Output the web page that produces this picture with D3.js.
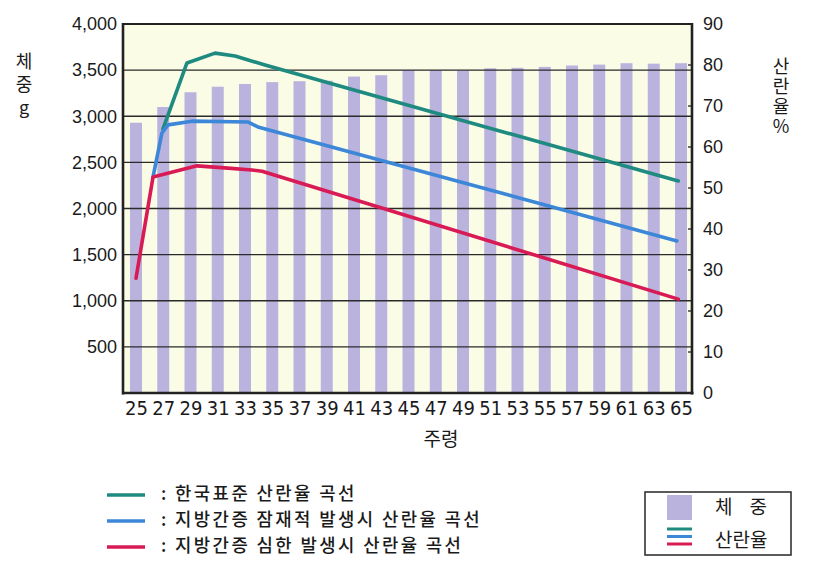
<!DOCTYPE html>
<html><head><meta charset="utf-8">
<script src="https://cdn.jsdelivr.net/npm/d3@7"></script>
<style>
body{margin:0;background:#fff}
text{fill:#1a1a1a}
</style>
</head><body>
<svg id="c" width="816" height="567"></svg>
<script>
// ---- data ----
const weeks = [25,27,29,31,33,35,37,39,41,43,45,47,49,51,53,55,57,59,61,63,65];
const weights = [2930,3100,3260,3320,3350,3370,3380,3385,3430,3445,3500,3500,3495,3520,3525,3535,3550,3560,3575,3570,3575];
const weightTicks = [500,1000,1500,2000,2500,3000,3500,4000];
const rateTicks = [0,10,20,30,40,50,60,70,80,90];

const stdWeeks = [26.98,28.74,30.8,32.27,34.47,64.8];
const stdRate  = [64.4,80.5,82.9,82.2,80.0,51.7];
const latentWeeks = [26.25,26.9,27.35,29.1,33.2,33.95,64.7];
const latentRate  = [52.7,63.4,65.4,66.3,66.1,64.9,37.1];
const severeWeeks = [25,26.25,29.48,31.5,33.5,34.25,64.8];
const severeRate  = [28.0,52.7,55.4,54.9,54.4,54.1,22.9];

const seriesNames = [": 한국표준 산란율 곡선", ": 지방간증 잠재적 발생시 산란율 곡선", ": 지방간증 심한 발생시 산란율 곡선"];
const seriesColors = ["#1f8a80", "#3d87d9", "#d81a55"];
const barColor = "#bab3de";

// ---- layout ----
const svg = d3.select("#c");
const L = 123, R = 692, T = 24, B = 393;
const x = d3.scaleLinear().domain([25,65]).range([136,681]);
const yW = d3.scaleLinear().domain([0,4000]).range([B,T]);
const yR = d3.scaleLinear().domain([0,90]).range([B,T]);
const numFont = "'Liberation Sans', Arial, sans-serif";
const narrowFont = "'Liberation Sans Narrow', 'DejaVu Sans Condensed', sans-serif";
const krFont = "'Noto Sans CJK KR', 'Noto Sans', sans-serif";

svg.append("rect").attr("x",L).attr("y",T).attr("width",R-L).attr("height",B-T).attr("fill","#fbfce6");

// bars
svg.append("g").selectAll("rect").data(weeks).join("rect")
  .attr("x", d => x(d) - 6).attr("width", 12)
  .attr("y", (d,i) => yW(weights[i])).attr("height", (d,i) => B - yW(weights[i]))
  .attr("fill", barColor);

// gridlines
svg.append("g").selectAll("line").data(weightTicks.filter(v => v < 4000)).join("line")
  .attr("x1", L).attr("x2", R).attr("y1", d => yW(d)).attr("y2", d => yW(d))
  .attr("stroke", "#2a2a2a").attr("stroke-width", 1.3);

// lines
const lineGen = d3.line().x(d => x(d[0])).y(d => yR(d[1]));
const series = [
  d3.zip(stdWeeks, stdRate),
  d3.zip(latentWeeks, latentRate),
  d3.zip(severeWeeks, severeRate)
];
series.forEach((s,i) => {
  svg.append("path").datum(s).attr("d", lineGen).attr("fill","none")
    .attr("stroke", seriesColors[i]).attr("stroke-width", 3.6)
    .attr("stroke-linejoin","round").attr("stroke-linecap","round");
});

// frame
svg.append("line").attr("x1",L).attr("x2",R).attr("y1",T).attr("y2",T).attr("stroke","#222").attr("stroke-width",2);
svg.append("line").attr("x1",L).attr("x2",L).attr("y1",T-1).attr("y2",B+1.5).attr("stroke","#222").attr("stroke-width",2.6);
svg.append("line").attr("x1",L-1).attr("x2",R+1.5).attr("y1",B).attr("y2",B).attr("stroke","#222").attr("stroke-width",2.6);
svg.append("line").attr("x1",R).attr("x2",R).attr("y1",T-1).attr("y2",B+1.5).attr("stroke","#222").attr("stroke-width",2.6);

// left axis
const axL = svg.append("g").attr("transform",`translate(${L},0)`)
  .call(d3.axisLeft(yW).tickValues(weightTicks).tickSize(0).tickPadding(6).tickFormat(d3.format(",")));
axL.select(".domain").remove();
axL.selectAll("text").attr("font-size",18).attr("font-family",numFont).attr("fill","#1a1a1a");

// right axis
const axR = svg.append("g").attr("transform",`translate(${R},0)`)
  .call(d3.axisRight(yR).tickValues(rateTicks).tickSize(0).tickPadding(11));
axR.select(".domain").remove();
axR.selectAll("text").attr("font-size",18).attr("font-family",numFont).attr("fill","#1a1a1a");
svg.append("g").selectAll("line").data(rateTicks.filter(v => v>0 && v<90)).join("line")
  .attr("x1", R-4).attr("x2", R).attr("y1", d => yR(d)).attr("y2", d => yR(d))
  .attr("stroke","#222").attr("stroke-width",1.3);

// bottom axis
const axB = svg.append("g").attr("transform",`translate(0,${B})`)
  .call(d3.axisBottom(x).tickValues(weeks).tickSize(0).tickPadding(8));
axB.select(".domain").remove();
axB.selectAll("text").attr("font-size",20).attr("font-family",narrowFont).attr("fill","#1a1a1a");

// axis titles
svg.append("text").attr("x",441).attr("y",446).attr("text-anchor","middle")
  .attr("font-family",krFont).attr("font-size",19).text("주령");
svg.append("text").attr("x",24).attr("y",52)
  .style("writing-mode","vertical-rl").style("text-orientation","upright")
  .style("letter-spacing","5px")
  .attr("font-family",krFont).attr("font-size",18).text("체중g");
svg.append("text").attr("x",781).attr("y",57)
  .style("writing-mode","vertical-rl").style("text-orientation","upright")
  .style("letter-spacing","2px")
  .attr("font-family",krFont).attr("font-size",18).text("산란율%");

// legend (left)
const ly = [494,520,546];
seriesNames.forEach((n,i) => {
  svg.append("line").attr("x1",107).attr("x2",145).attr("y1",ly[i]+1).attr("y2",ly[i]+1)
    .attr("stroke",seriesColors[i]).attr("stroke-width",3.5);
  svg.append("text").attr("x",161).attr("y",ly[i]).attr("dy","0.36em")
    .style("letter-spacing","2.4px")
    .attr("font-family",krFont).attr("font-size",17.8).attr("font-weight",500).text(n);
});

// legend box (right)
svg.append("rect").attr("x",645).attr("y",492).attr("width",146).attr("height",63)
  .attr("fill","#fff").attr("stroke","#333").attr("stroke-width",1.6);
svg.append("rect").attr("x",667).attr("y",495).attr("width",25).attr("height",25).attr("fill",barColor);
seriesColors.forEach((c,i) => {
  svg.append("line").attr("x1",667).attr("x2",692).attr("y1",529+i*7.5).attr("y2",529+i*7.5)
    .attr("stroke",c).attr("stroke-width",3);
});
svg.append("text").attr("x",715).attr("y",507).attr("dy","0.36em").attr("font-family",krFont)
  .attr("font-size",19).attr("xml:space","preserve").text("체    중");
svg.append("text").attr("x",715).attr("y",540).attr("dy","0.36em").attr("font-family",krFont)
  .attr("font-size",19).text("산란율");
</script>
</body></html>
